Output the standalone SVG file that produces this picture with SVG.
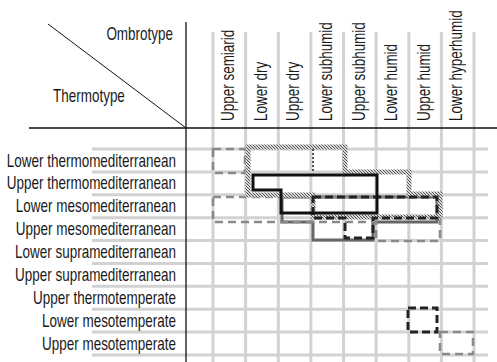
<svg xmlns="http://www.w3.org/2000/svg" width="497" height="362" viewBox="0 0 497 362">
<defs>
<pattern id="hatch" patternUnits="userSpaceOnUse" width="3" height="3">
<rect width="3" height="3" fill="#d8d8d8"/>
<path d="M-1,-1 L4,4" stroke="#555" stroke-width="1"/>
</pattern>
</defs>
<style>
.grid{stroke:#d2d2d2;stroke-width:3;fill:none}
.axis{stroke:#111;stroke-width:1.3;fill:none}
.lbl{font-family:"Liberation Sans",Arial,sans-serif;font-size:17.5px;fill:#1a1a1a}
.hatched{stroke:url(#hatch);stroke-width:5;fill:none}
.gdash{stroke:#8a8a8a;stroke-width:2.6;stroke-dasharray:8 5;fill:none}
.kdash{stroke:#222;stroke-width:3;stroke-dasharray:8 4;fill:none}
.dsolid{stroke:#666;stroke-width:3;fill:none}
.ksolid{stroke:#111;stroke-width:3;fill:none}
.dotted{stroke:#555;stroke-width:2;stroke-dasharray:2 2;fill:none}
</style>
<g id="grid">
<path class="grid" d="M213,32V362M245.6,32V362M278.3,32V362M310.9,32V362M343.5,32V362M376.1,32V362M408.8,32V362M441.4,32V362M474,32V362"/>
<path class="grid" d="M92,149H488M92,171.9H488M92,194.8H488M92,217.7H488M92,240.6H488M92,263.4H488M92,286.3H488M92,309.2H488M92,332.1H488M92,355H488"/>
</g>
<g id="axes">
<path class="axis" d="M186,22V362M29,128H497"/>
<path stroke="#111" stroke-width="1" d="M48,24L186,128"/>
</g>
<g id="corner-labels">
<text class="lbl" transform="translate(173,40) scale(0.77,1)" text-anchor="end">Ombrotype</text>
<text class="lbl" transform="translate(53,102) scale(0.77,1)">Thermotype</text>
</g>
<g id="ombrotypes">
<text class="lbl" transform="translate(234,121) rotate(-90) scale(0.77,1)">Upper semiarid</text>
<text class="lbl" transform="translate(266.6,121) rotate(-90) scale(0.77,1)">Lower dry</text>
<text class="lbl" transform="translate(299.3,121) rotate(-90) scale(0.77,1)">Upper dry</text>
<text class="lbl" transform="translate(331.9,121) rotate(-90) scale(0.77,1)">Lower subhumid</text>
<text class="lbl" transform="translate(364.5,121) rotate(-90) scale(0.77,1)">Upper subhumid</text>
<text class="lbl" transform="translate(397.1,121) rotate(-90) scale(0.77,1)">Lower humid</text>
<text class="lbl" transform="translate(429.8,121) rotate(-90) scale(0.77,1)">Upper humid</text>
<text class="lbl" transform="translate(462.4,121) rotate(-90) scale(0.77,1)">Lower hyperhumid</text>
</g>
<g id="thermotypes">
<text class="lbl" transform="translate(176,166.5) scale(0.77,1)" text-anchor="end">Lower thermomediterranean</text>
<text class="lbl" transform="translate(176,189.4) scale(0.77,1)" text-anchor="end">Upper thermomediterranean</text>
<text class="lbl" transform="translate(176,212.3) scale(0.77,1)" text-anchor="end">Lower mesomediterranean</text>
<text class="lbl" transform="translate(176,235.2) scale(0.77,1)" text-anchor="end">Upper mesomediterranean</text>
<text class="lbl" transform="translate(176,258.1) scale(0.77,1)" text-anchor="end">Lower supramediterranean</text>
<text class="lbl" transform="translate(176,281) scale(0.77,1)" text-anchor="end">Upper supramediterranean</text>
<text class="lbl" transform="translate(176,303.9) scale(0.77,1)" text-anchor="end">Upper thermotemperate</text>
<text class="lbl" transform="translate(176,326.8) scale(0.77,1)" text-anchor="end">Lower mesotemperate</text>
<text class="lbl" transform="translate(176,349.7) scale(0.77,1)" text-anchor="end">Upper mesotemperate</text>
</g>
<g id="envelopes">
<path id="env-grey-dashed-1" class="gdash" d="M213,149H245V173H213Z"/>
<path id="env-dark-solid" class="dsolid" d="M282,197H437V222H373V240H313V222H282Z"/>
<path id="env-grey-dashed-2" class="gdash" d="M213,197H440V241H376V222H213Z"/>
<path id="env-hatched" class="hatched" d="M248,147H345V172H409V194H440V217H313V195H248Z"/>
<path id="env-dotted" class="dotted" d="M313,149V172"/>
<path id="env-black-dashed" class="kdash" d="M313,197H437V218H373V238H345V218H313Z"/>
<path id="env-black-solid" class="ksolid" d="M253,175H377V213H281V190H253Z"/>
<path id="env-black-dashed-2" class="kdash" d="M408,308H437V332H408Z"/>
<path id="env-grey-dashed-3" class="gdash" d="M440,332H473V354H440Z"/>
</g>
</svg>
